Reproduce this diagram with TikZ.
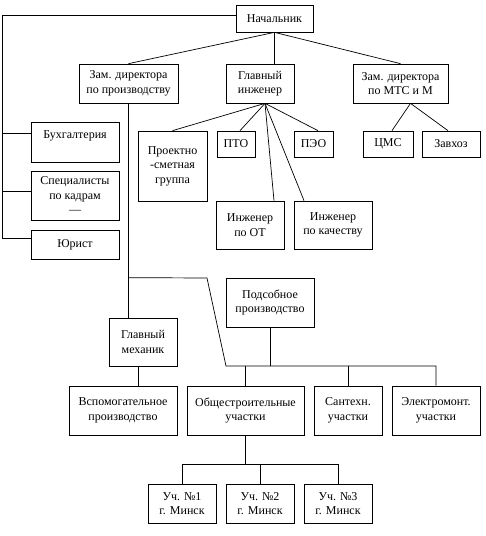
\documentclass[tikz,border=0pt]{standalone}
\usepackage{fontspec}
\setmainfont{Liberation Serif}
\begin{document}
\begin{tikzpicture}
    [x=1pt,y=-1pt,line width=0.7pt,
     box/.style={draw,align=center,inner sep=0pt,font=\fontsize{12}{14.5}\selectfont}]

    \useasboundingbox (0,0) rectangle (486,536);

    % head:
    \node (nach) at (274.5, 18.5) [box,minimum width=77pt,minimum height=27pt] {Начальник};

    % deputies:
    \node (zpr) at (128.5, 83.5) [box,minimum width=99pt,minimum height=39pt] {Зам. директора\\по производству};
    \node (gi) at (260, 83.5) [box,minimum width=68pt,minimum height=39pt] {Главный\\инженер};
    \node (mts) at (400.5, 83.5) [box,minimum width=95pt,minimum height=39pt] {Зам. директора\\по МТС и М};

    % left column:
    \node (buh) at (75, 142) [box,minimum width=88pt,minimum height=40pt] {Бухгалтерия\\\mbox{}};
    \node (spec) at (75, 195.5) [box,minimum width=88pt,minimum height=49pt] {Специалисты\\по кадрам\\—};
    \node (jur) at (75, 244.5) [box,minimum width=88pt,minimum height=29pt] {Юрист};

    % chief engineer's units:
    \node (psg) at (172.5, 166) [box,minimum width=69pt,minimum height=70pt] {Проектно\\-сметная\\группа};
    \node (pto) at (236, 144) [box,minimum width=38pt,minimum height=26pt] {ПТО};
    \node (peo) at (313.5, 144) [box,minimum width=39pt,minimum height=26pt] {ПЭО};
    \node (iot) at (250, 225) [box,minimum width=68pt,minimum height=48pt] {Инженер\\по ОТ};
    \node (ik) at (333, 225) [box,minimum width=78pt,minimum height=48pt] {Инженер\\по качеству};

    % supply units:
    \node (cms) at (388, 144) [box,minimum width=50pt,minimum height=26pt] {ЦМС};
    \node (zav) at (451, 144) [box,minimum width=58pt,minimum height=26pt] {Завхоз};

    % production:
    \node (pod) at (270, 302.5) [box,minimum width=88pt,minimum height=49pt] {Подсобное\\производство};
    \node (gm) at (143, 342) [box,minimum width=68pt,minimum height=48pt] {Главный\\механик};

    \node (vsp) at (123, 410.5) [box,minimum width=108pt,minimum height=49pt] {Вспомогательное\\производство};
    \node (ost) at (245.5, 410.5) [box,minimum width=117pt,minimum height=49pt] {Общестроительные\\участки};
    \node (san) at (348, 410.5) [box,minimum width=68pt,minimum height=49pt] {Сантехн.\\участки};
    \node (elm) at (436, 410.5) [box,minimum width=88pt,minimum height=49pt] {Электромонт.\\участки};

    % sites:
    \node (u1) at (182, 503.5) [box,minimum width=68pt,minimum height=39pt] {Уч. №1\\г. Минск};
    \node (u2) at (260, 503.5) [box,minimum width=68pt,minimum height=39pt] {Уч. №2\\г. Минск};
    \node (u3) at (338, 503.5) [box,minimum width=68pt,minimum height=39pt] {Уч. №3\\г. Минск};

    % helper points:
    \coordinate (spinetop) at (2, 15);
    \coordinate (spinebot) at (2, 238);
    \coordinate (kink) at (207, 278);
    \coordinate (busl) at (226, 366);
    \coordinate (busb) at (260, 464);

    % connect nodes:

    \draw ([yshift=3.5pt]nach.west) to (spinetop) to (spinebot) to (spinebot -| jur.west);
    \draw ([yshift=9pt]buh.west) to ++(-29, 0);
    \draw ([yshift=4.5pt]spec.west) to ++(-29, 0);

    \draw (nach.south) to (zpr.north);
    \draw (nach.south) to (nach.south |- gi.north);
    \draw (nach.south) to (mts.north);

    \draw ([xshift=5pt]gi.south) to (psg.north);
    \draw ([xshift=5pt]gi.south) to ([xshift=4pt]pto.north);
    \draw ([xshift=5pt]gi.south) to ([xshift=4.5pt]peo.north);
    \draw ([xshift=5pt]gi.south) to ([xshift=24pt]iot.north);
    \draw ([xshift=5pt]gi.south) to ([xshift=-29pt]ik.north);

    \draw ([xshift=10pt]mts.south) to ([xshift=4pt]cms.north);
    \draw ([xshift=10pt]mts.south) to ([xshift=-3pt]zav.north);

    \draw (zpr.south) to (zpr.south |- gm.north);
    \draw (zpr.south |- pod.north) to (kink) to (busl) -| (elm.north);
    \draw (pod.south) to (pod.south |- busl);
    \draw (ost.north |- busl) to (ost.north);
    \draw (san.north |- busl) to (san.north);
    \draw ([xshift=-5pt]gm.south) to ([xshift=-5pt]gm.south |- vsp.north);

    \draw (ost.south) to (ost.south |- busb);
    \draw (u1.north |- busb) -| (u3.north);
    \draw (u1.north |- busb) to (u1.north);
    \draw (u2.north |- busb) to (u2.north);

  \end{tikzpicture}
\end{document}
